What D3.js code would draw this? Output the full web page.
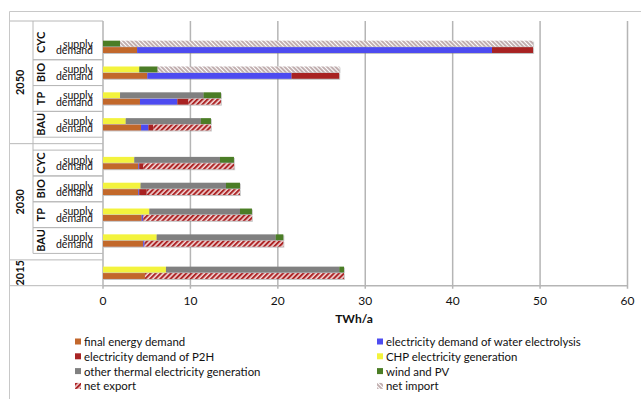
<!DOCTYPE html>
<html>
<head>
<meta charset="utf-8">
<script src="https://cdn.jsdelivr.net/npm/d3@7"></script>
<style>
  body { margin: 0; background: #fff; }
  svg { font-family: Lato, "Liberation Sans", sans-serif; }
</style>
</head>
<body>
<div id="chart"></div>
<script>
// cases, top to bottom
const caseYear = ["2050", "2050", "2050", "2050", "2030", "2030", "2030", "2030", "2015"];
const caseScenario = ["CYC", "BIO", "TP", "BAU", "CYC", "BIO", "TP", "BAU", ""];

// supply side (TWh/a)
const chp          = [0,     4.15,  1.95, 2.6,  3.58, 4.3,   5.3,   6.14,  7.2];
const otherThermal = [0,     0,     9.55, 8.6,  9.8,  9.77,  10.37, 13.61, 19.83];
const windPV       = [1.95,  2.1,   2.0,  1.15, 1.6,  1.6,   1.37,  0.88,  0.54];
const netImport    = [47.25, 20.8,  0,    0,    0,    0,     0,     0,     0];

// demand side (TWh/a)
const finalEnergy  = [3.9,   5.07,  4.23, 4.35, 4.04, 4.04,  4.42,  4.6,   4.8];
const electrolysis = [40.6,  16.5,  4.27, 0.85, 0.1,  0.1,   0.15,  0.15,  0];
const p2h          = [4.7,   5.45,  1.26, 0.55, 0.46, 0.86,  0.05,  0,     0];
const netExport    = [0,     0,     3.74, 6.6,  10.4, 10.67, 12.42, 15.88, 22.77];

const years = ["2050", "2030", "2015"];
const xTicks = [0, 10, 20, 30, 40, 50, 60];
const axisTitle = "TWh/a";

const legendLabels = [
  "final energy demand", "electricity demand of water electrolysis",
  "electricity demand of P2H", "CHP electricity generation",
  "other thermal electricity generation", "wind and PV",
  "net export", "net import"
];
const legendKeys = ["final", "electrolysis", "p2h", "chp", "other", "wind", "export", "import"];

const W = 641, H = 399;
const fills = {
  final: "#c2672c",
  electrolysis: "#4e4cf0",
  p2h: "#a82424",
  chp: "#f3f33c",
  other: "#808080",
  wind: "#4b7d25",
  export: "url(#hatchExport)",
  import: "url(#hatchImport)"
};

const svg = d3.select("#chart").append("svg")
  .attr("width", W)
  .attr("height", H);

const defs = svg.append("defs");

const pe = defs.append("pattern")
  .attr("id", "hatchExport")
  .attr("patternUnits", "userSpaceOnUse")
  .attr("width", 3.6).attr("height", 3.6)
  .attr("patternTransform", "rotate(45)");
pe.append("rect").attr("width", 3.6).attr("height", 3.6).attr("fill", "#f2d9d9");
pe.append("line").attr("x1", 1).attr("x2", 1).attr("y1", 0).attr("y2", 3.6)
  .attr("stroke", "#ad2628").attr("stroke-width", 2.1);

const pi = defs.append("pattern")
  .attr("id", "hatchImport")
  .attr("patternUnits", "userSpaceOnUse")
  .attr("width", 3).attr("height", 3)
  .attr("patternTransform", "rotate(-45)");
pi.append("rect").attr("width", 3).attr("height", 3).attr("fill", "#ffffff");
pi.append("line").attr("x1", 1).attr("x2", 1).attr("y1", 0).attr("y2", 3)
  .attr("stroke", "#98797a").attr("stroke-width", 1.2);

const shadow = defs.append("filter").attr("id", "shadow")
  .attr("x", "-5%").attr("y", "-50%").attr("width", "110%").attr("height", "200%");
shadow.append("feDropShadow")
  .attr("dx", 0.8).attr("dy", 1).attr("stdDeviation", 0.7)
  .attr("flood-color", "#777").attr("flood-opacity", 0.45);

// chart frame
svg.append("path")
  .attr("d", `M9.5,${H} V11.5 H${W}`)
  .attr("fill", "none")
  .attr("stroke", "#c8c8c8")
  .attr("stroke-width", 1);

// row layout: each case takes 4 slots (pad, supply, demand, pad)
const padTop = {"2050": 2, "2030": 1, "2015": 0};
const padBottom = {"2050": 1, "2030": 1, "2015": 0};
let slot = 0;
const caseStart = [];
const groups = [];
years.forEach(yr => {
  const g = {year: yr, start: slot};
  slot += padTop[yr];
  caseYear.forEach((cy, i) => {
    if (cy !== yr) return;
    caseStart[i] = slot;
    slot += 4;
  });
  slot += padBottom[yr];
  g.end = slot;
  groups.push(g);
});

const plotTop = 21, plotBottom = 285.7;
const y = d3.scaleBand()
  .domain(d3.range(slot + 1))
  .range([plotTop, plotBottom + (plotBottom - plotTop) / slot])
  .padding(0);
const slotY = s => y(s);

const x = d3.scaleLinear()
  .domain([0, 60])
  .range([103, 627.5]);

// gridlines
svg.append("g")
  .selectAll("line")
  .data(xTicks)
  .join("line")
  .attr("x1", d => x(d)).attr("x2", d => x(d))
  .attr("y1", plotTop).attr("y2", plotBottom + 3)
  .attr("stroke", "#b5b5b5")
  .attr("stroke-width", 1.5);

// x axis line
svg.append("line")
  .attr("x1", x(0)).attr("x2", x(60))
  .attr("y1", plotBottom).attr("y2", plotBottom)
  .attr("stroke", "#b5b5b5").attr("stroke-width", 1.5);

// tick labels
svg.append("g")
  .selectAll("text")
  .data(xTicks)
  .join("text")
  .attr("x", d => x(d))
  .attr("y", 301)
  .attr("dy", "0.35em")
  .attr("text-anchor", "middle")
  .attr("font-size", 12)
  .attr("fill", "#111")
  .text(d => d);

svg.append("text")
  .attr("x", 354)
  .attr("y", 319)
  .attr("dy", "0.35em")
  .attr("text-anchor", "middle")
  .attr("font-size", 12)
  .attr("font-weight", "bold")
  .attr("fill", "#111")
  .text(axisTitle);

// category axis lines
const catLines = svg.append("g")
  .attr("stroke", "#b8b8b8")
  .attr("stroke-width", 1);
groups.forEach(g => {
  catLines.append("line")
    .attr("x1", 10).attr("x2", x(0))
    .attr("y1", slotY(g.start)).attr("y2", slotY(g.start));
});
catLines.append("line")
  .attr("x1", 10).attr("x2", x(0))
  .attr("y1", slotY(slot)).attr("y2", slotY(slot));
caseScenario.forEach((sc, i) => {
  if (!sc) return;
  const s0 = caseStart[i], s1 = caseStart[i] + 4;
  const g = groups.find(gr => gr.year === caseYear[i]);
  if (s0 !== g.start + padTop[g.year] || padTop[g.year] < 2) {
    catLines.append("line")
      .attr("x1", 33).attr("x2", x(0))
      .attr("y1", slotY(s0)).attr("y2", slotY(s0));
  }
  catLines.append("line")
    .attr("x1", 33).attr("x2", x(0))
    .attr("y1", slotY(s1)).attr("y2", slotY(s1));
});
const lastScenario = d3.max(caseScenario.map((sc, i) => sc ? caseStart[i] + 4 : 0));
catLines.append("line")
  .attr("x1", 33).attr("x2", 33)
  .attr("y1", plotTop).attr("y2", slotY(lastScenario));

// year labels
groups.forEach(g => {
  const cy = (slotY(g.start) + slotY(g.end)) / 2;
  svg.append("text")
    .attr("transform", `translate(20,${cy}) rotate(-90)`)
    .attr("text-anchor", "middle")
    .attr("dy", "0.35em")
    .attr("font-size", 11)
    .attr("font-weight", "bold")
    .attr("fill", "#111")
    .text(g.year);
});

// scenario + supply/demand labels
caseScenario.forEach((sc, i) => {
  if (!sc) return;
  const g = groups.find(gr => gr.year === caseYear[i]);
  const top = (caseStart[i] === g.start + padTop[g.year] && padTop[g.year] >= 2)
    ? slotY(g.start) + 4 : slotY(caseStart[i]);
  const cy = (top + slotY(caseStart[i] + 4)) / 2;
  svg.append("text")
    .attr("transform", `translate(41.5,${cy}) rotate(-90)`)
    .attr("text-anchor", "middle")
    .attr("dy", "0.35em")
    .attr("font-size", 11)
    .attr("font-weight", "bold")
    .attr("fill", "#111")
    .text(sc);
  [["supply", 1], ["demand", 2]].forEach(([lab, k]) => {
    svg.append("text")
      .attr("x", 93)
      .attr("y", slotY(caseStart[i] + k) + y.bandwidth() / 2)
      .attr("dy", "0.38em")
      .attr("text-anchor", "end")
      .attr("font-size", 10.5)
      .attr("fill", "#111")
      .text(lab);
  });
});

// stacked bars
const table = caseYear.map((cy, i) => ({
  i,
  chp: chp[i], other: otherThermal[i], wind: windPV[i], import: netImport[i],
  final: finalEnergy[i], electrolysis: electrolysis[i], p2h: p2h[i], export: netExport[i]
}));
const supplyStack = d3.stack().keys(["chp", "other", "wind", "import"])(table);
const demandStack = d3.stack().keys(["final", "electrolysis", "p2h", "export"])(table);

const bars = svg.append("g").attr("filter", "url(#shadow)");
[[supplyStack, 1], [demandStack, 2]].forEach(([stack, k]) => {
  stack.forEach(layer => {
    bars.append("g")
      .attr("fill", fills[layer.key])
      .selectAll("rect")
      .data(layer.filter(d => d[1] - d[0] > 0))
      .join("rect")
      .attr("x", d => x(d[0]))
      .attr("width", d => x(d[1]) - x(d[0]))
      .attr("y", d => slotY(caseStart[d.data.i] + k) + 0.3)
      .attr("height", y.bandwidth() - 0.6);
  });
});

// legend
const legend = svg.append("g");
legendLabels.forEach((lab, i) => {
  const col = i % 2, row = Math.floor(i / 2);
  const lx = col === 0 ? 75 : 377;
  const ly = 342 + row * 14.8;
  legend.append("rect")
    .attr("x", lx).attr("y", ly - 3.5)
    .attr("width", 6).attr("height", 6)
    .attr("fill", fills[legendKeys[i]]);
  legend.append("text")
    .attr("x", lx + 9)
    .attr("y", ly)
    .attr("dy", "0.35em")
    .attr("font-size", 11.4)
    .attr("fill", "#111")
    .text(lab);
});
</script>
</body>
</html>
